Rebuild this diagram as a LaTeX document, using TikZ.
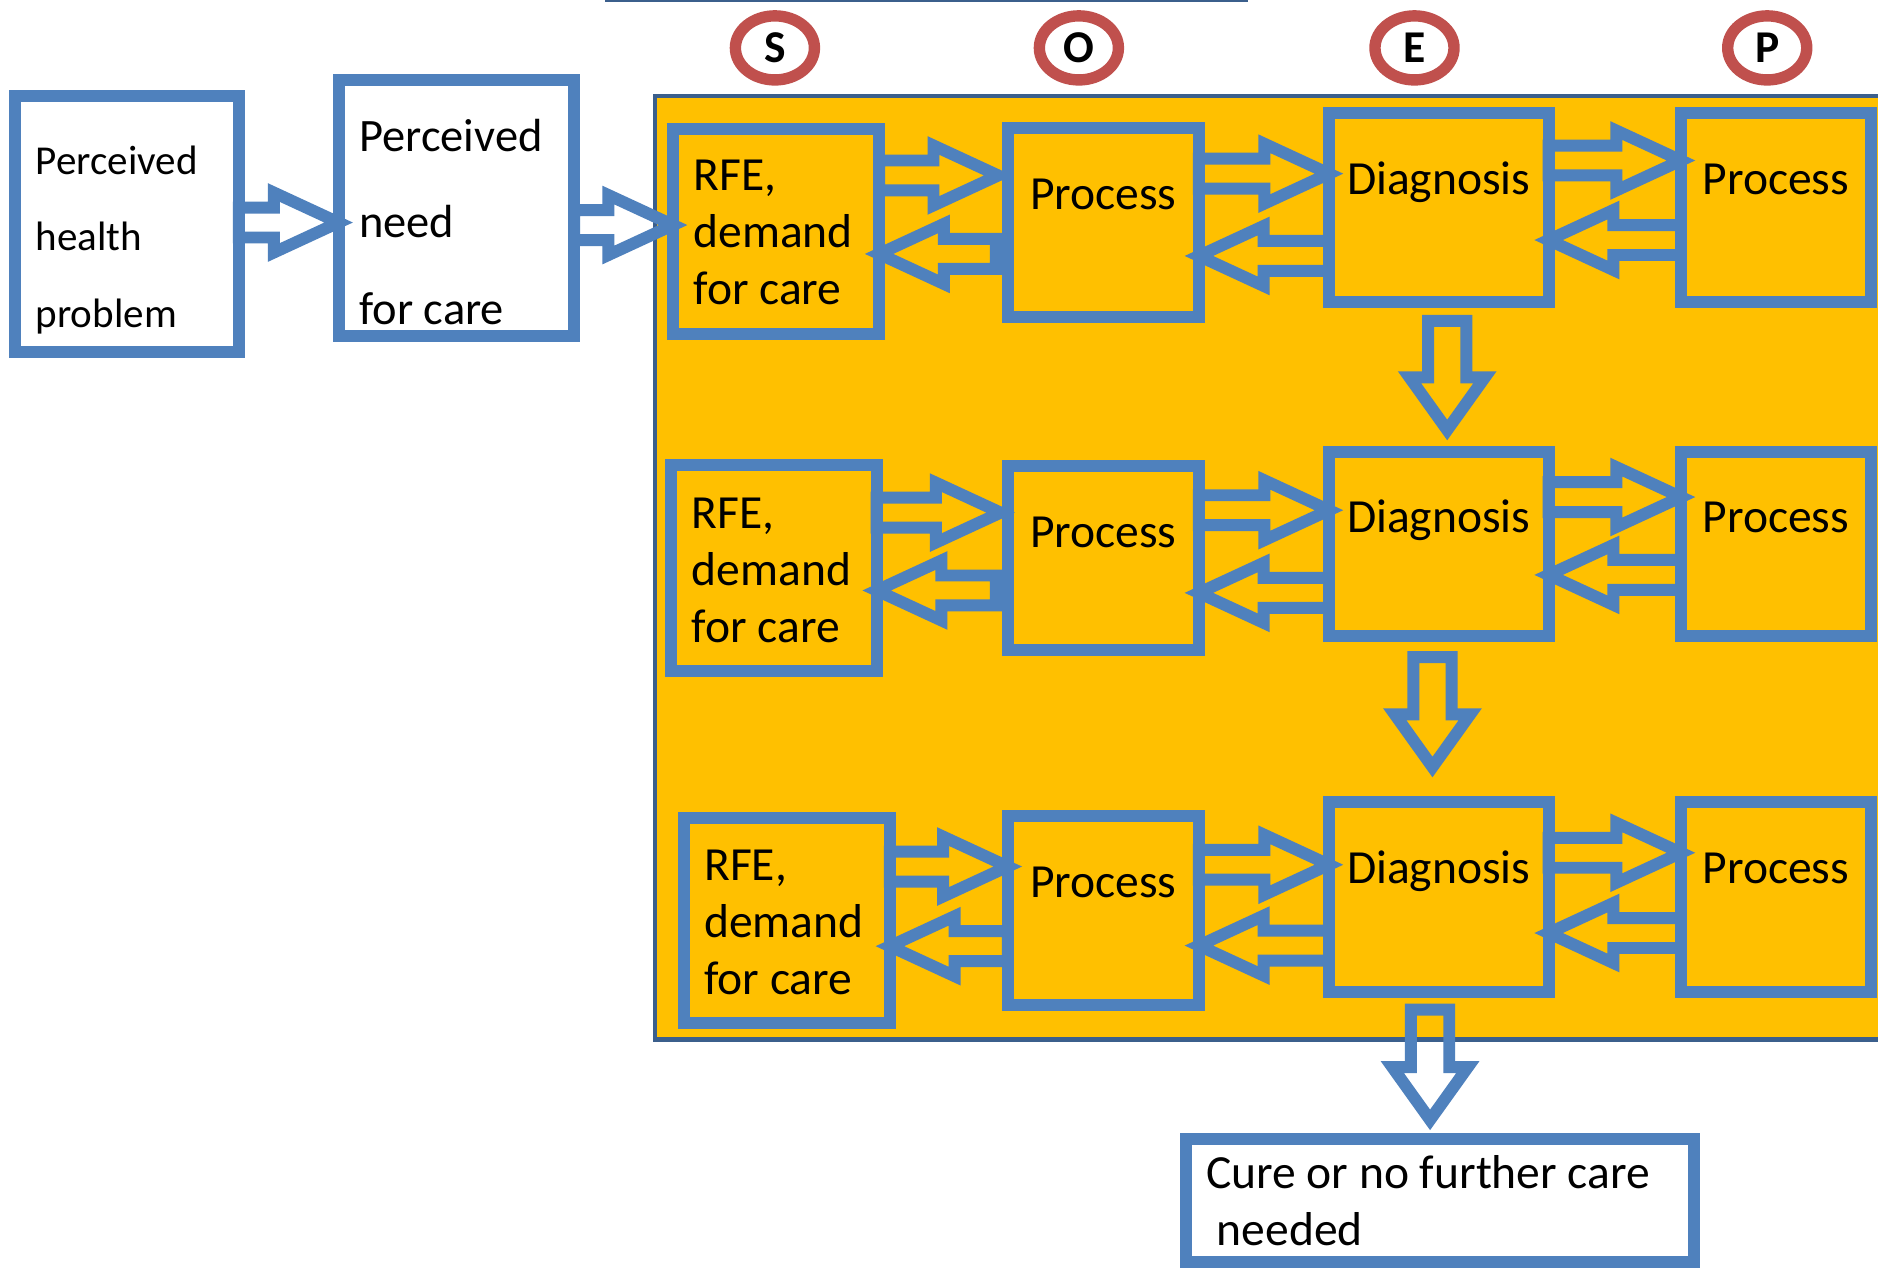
\documentclass[tikz,border=0pt]{standalone}
\usepackage{fontspec}
\setmainfont{Carlito}
\usetikzlibrary{calc,shapes.geometric}

\definecolor{boxblue}{HTML}{4F81BD}
\definecolor{frameblue}{HTML}{3B5F8C}
\definecolor{soapred}{HTML}{C0504D}
\definecolor{careorange}{HTML}{FFC000}

% left-aligned lines, baseline at the first line
\newcommand\txtlines[1]{\vtop{\halign{##\hfil\cr#1\crcr}}}

% outlined block arrow: tail, tip, shaft half-width, head half-width, head length
\newcommand\blockarrow[5]{%
  \path #1 coordinate (ba-a) #2 coordinate (ba-b);
  \coordinate (ba-c) at ($(ba-b)!#5!(ba-a)$);
  \draw[blockline]
    ($(ba-a)!#3!90:(ba-b)$) -- ($(ba-c)!#3!90:(ba-b)$) -- ($(ba-c)!#4!90:(ba-b)$)
    -- (ba-b)
    -- ($(ba-c)!#4!-90:(ba-b)$) -- ($(ba-c)!#3!-90:(ba-b)$) -- ($(ba-a)!#3!-90:(ba-b)$)
    -- cycle;}
\newcommand\harrow[2]{\blockarrow{#1}{#2}{12.5pt}{25pt}{54pt}}
\newcommand\varrow[2]{\blockarrow{#1}{#2}{16pt}{31.5pt}{44pt}}

\begin{document}
\begin{tikzpicture}[x=1pt,y=-1pt,
  bluebox/.style={rectangle, draw=boxblue, line width=10pt, inner sep=0pt,
    outer sep=0pt, anchor=north west},
  blockline/.style={draw=boxblue, line width=10pt, line join=miter},
  txt/.style={inner sep=0pt, outer sep=0pt, text=black,
    font=\fontsize{39.7pt}{47.6pt}\selectfont},
  soapmark/.style={ellipse, draw=soapred, line width=9.5pt, fill=white,
    minimum width=66pt, minimum height=53.5pt, inner sep=0pt, text=black,
    font=\fontsize{38pt}{40pt}\selectfont\bfseries}]

\useasboundingbox (0,0) rectangle (1568,1059);
\clip (0,0) rectangle (1568,1059);
\fill[white] (0,0) rectangle (1568,1059);

% edge of the heading frame above
\draw[frameblue, line width=3pt] (505,0.5) -- (1042,0.5);

% consultation area
\node[rectangle, draw=frameblue, line width=3.8pt, fill=careorange, inner sep=0pt,
  outer sep=0pt, anchor=north west, minimum width=1100pt, minimum height=788pt]
  (consult) at (547,80) {};

% patient side
\node[bluebox, fill=white, minimum width=187pt, minimum height=214pt] (php) at (12.5,80) {};
\node[bluebox, fill=white, minimum width=196.7pt, minimum height=213.5pt] (pnc) at (282.7,66.8) {};
\node[txt, anchor=base west, font=\fontsize{34.3pt}{64pt}\selectfont] (php-t) at (29.8,145.3)
  {\txtlines{Perceived\cr health\cr problem}};
\node[txt, anchor=base west, font=\fontsize{38.8pt}{72pt}\selectfont] (pnc-t) at (300,126.6)
  {\txtlines{Perceived\cr need\cr for care}};

% row 1
\node[bluebox, minimum width=172pt, minimum height=171pt] (rfe1) at (562,108) {};
\node[bluebox, minimum width=159.6pt, minimum height=157.5pt] (o1) at (841.4,107) {};
\node[bluebox, minimum width=183.4pt, minimum height=157.8pt] (e1) at (1109.6,94.6) {};
\node[bluebox, minimum width=158.5pt, minimum height=157.8pt] (p1) at (1403.5,94.6) {};
% row 2
\node[bluebox, minimum width=172pt, minimum height=172pt] (rfe2) at (560,388) {};
\node[bluebox, minimum width=159.6pt, minimum height=154pt] (o2) at (841.4,389) {};
\node[bluebox, minimum width=183.4pt, minimum height=154pt] (e2) at (1109.6,377) {};
\node[bluebox, minimum width=158.5pt, minimum height=154pt] (p2) at (1403.5,377) {};
% row 3
\node[bluebox, minimum width=172pt, minimum height=171pt] (rfe3) at (571,683) {};
\node[bluebox, minimum width=159.6pt, minimum height=158pt] (o3) at (841.4,681) {};
\node[bluebox, minimum width=183.4pt, minimum height=158pt] (e3) at (1109.6,670) {};
\node[bluebox, minimum width=158.5pt, minimum height=158pt] (p3) at (1403.5,670) {};
% outcome
\node[bluebox, fill=white, minimum width=424.4pt, minimum height=103pt] (cure) at (990,951) {};

% box texts
\node[txt, anchor=base west] (rfe1-t) at (579,159) {\txtlines{RFE,\cr demand\cr for care}};
\node[txt, anchor=base west] (rfe2-t) at (577.6,441) {\txtlines{RFE,\cr demand\cr for care}};
\node[txt, anchor=base west] (rfe3-t) at (588,735) {\txtlines{RFE,\cr demand\cr for care}};
\foreach \b/\w in {o1/Process,e1/Diagnosis,p1/Process,
                   o2/Process,e2/Diagnosis,p2/Process,
                   o3/Process,e3/Diagnosis,p3/Process}
  \node[txt, anchor=base] (\b-t) at ($(\b.north)+(0,68)$) {\w};
\node[txt, anchor=base west] (cure-t) at (1007,992)
  {\txtlines{Cure or no further care\cr\ needed}};

% arrows into the consultation
\harrow{(php.east |- 0,185.8)}{(pnc.west |- 0,185.8)}
\harrow{(pnc.east |- 0,187.9)}{(rfe1.west |- 0,187.9)}

% row 1 arrows
\harrow{(rfe1.east |- 0,146.5)}{($(o1.west |- 0,146.5)+(-8,0)$)}
\harrow{($(o1.west |- 0,212)+(-10,0)$)}{(rfe1.east |- 0,212)}
\harrow{(o1.east |- 0,145)}{(e1.west |- 0,145)}
\harrow{(e1.west |- 0,213.7)}{(o1.east |- 0,213.7)}
\harrow{(e1.east |- 0,134)}{(p1.west |- 0,134)}
\harrow{(p1.west |- 0,200.4)}{(e1.east |- 0,200.4)}

% row 2 arrows
\harrow{(rfe2.east |- 0,428)}{($(o2.west |- 0,428)+(-6,0)$)}
\harrow{($(o2.west |- 0,493)+(-10,0)$)}{(rfe2.east |- 0,493)}
\harrow{(o2.east |- 0,426)}{(e2.west |- 0,426)}
\harrow{(e2.west |- 0,495)}{(o2.east |- 0,495)}
\harrow{(e2.east |- 0,415)}{(p2.west |- 0,415)}
\harrow{(p2.west |- 0,480)}{(e2.east |- 0,480)}

% row 3 arrows
\harrow{(rfe3.east |- 0,723.5)}{(o3.west |- 0,723.5)}
\harrow{(o3.west |- 0,790)}{(rfe3.east |- 0,790)}
\harrow{(o3.east |- 0,722)}{(e3.west |- 0,722)}
\harrow{(e3.west |- 0,789.5)}{(o3.east |- 0,789.5)}
\harrow{(e3.east |- 0,712)}{(p3.west |- 0,712)}
\harrow{(p3.west |- 0,779)}{(e3.east |- 0,779)}

% episode continues downwards
\varrow{($(e1.south)+(7,15.6)$)}{($(e2.north)+(7,-18)$)}
\varrow{($(e2.south)+(-5.3,17.6)$)}{($(e3.north)+(-5.3,-29.6)$)}
\varrow{($(e3.south)+(-7.3,15)$)}{($(cure.north)+(-8.2,-16)$)}

% SOEP column marks
\node[soapmark] (mark-s) at (647,40) {S};
\node[soapmark] (mark-o) at (900.8,40) {O};
\node[soapmark] (mark-e) at (1181,40) {E};
\node[soapmark] (mark-p) at (1475.5,40) {P};
\end{tikzpicture}
\end{document}
